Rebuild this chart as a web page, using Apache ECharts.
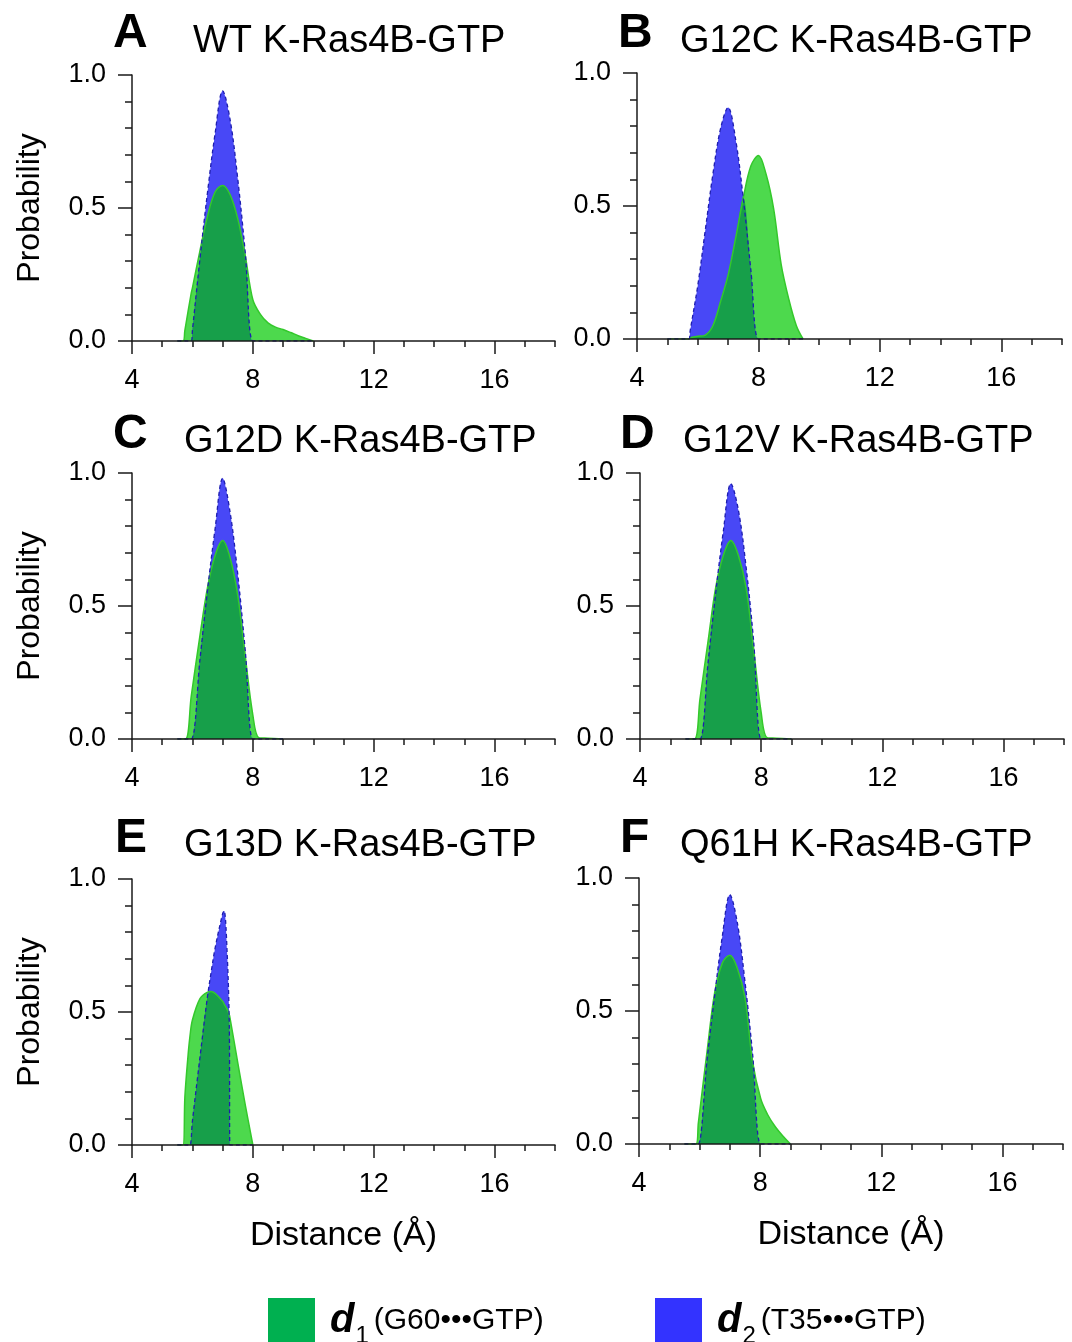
<!DOCTYPE html>
<html>
<head>
<meta charset="utf-8">
<script src="https://cdn.jsdelivr.net/npm/echarts@6/dist/echarts.min.js"></script>
<style>
  html, body { margin: 0; padding: 0; background: #ffffff; }
  #chart { width: 1072px; height: 1342px; }
</style>
</head>
<body>
<div id="chart"></div>
<script>
// Distance distributions d1 (G60···GTP) and d2 (T35···GTP) for six K-Ras4B-GTP systems.
const panelLetters = ['A', 'B', 'C', 'D', 'E', 'F'];
const panelTitles = [
  'WT K-Ras4B-GTP', 'G12C K-Ras4B-GTP',
  'G12D K-Ras4B-GTP', 'G12V K-Ras4B-GTP',
  'G13D K-Ras4B-GTP', 'Q61H K-Ras4B-GTP'
];
const xTickLabels = [4, 8, 12, 16];
const yAxisTitle = 'Probability';
const xAxisTitle = 'Distance (Å)';
const legendLabels = ['(G60•••GTP)', '(T35•••GTP)'];

// A: WT
const distA = [5.5, 5.69, 5.75, 5.96, 6.0, 6.25, 6.5, 6.75, 7.0, 7.25, 7.5, 7.75, 8.0, 8.25, 8.5, 8.75, 9.0, 9.25, 9.5, 9.75, 10.0];
const d1A   = [0, 0, 0.04, 0.18, 0.20, 0.34, 0.47, 0.56, 0.585, 0.55, 0.46, 0.32, 0.155, 0.10, 0.068, 0.052, 0.043, 0.032, 0.02, 0.01, 0];
const d2A   = [0, 0, 0, 0, 0.04, 0.31, 0.56, 0.78, 0.94, 0.83, 0.61, 0.33, 0, 0, 0, 0, 0, 0, 0, 0, 0];

// B: G12C
const distB = [5.0, 5.5, 5.71, 5.75, 6.0, 6.25, 6.5, 6.75, 7.0, 7.25, 7.5, 7.75, 8.0, 8.25, 8.5, 8.75, 9.0, 9.25, 9.47];
const d1B   = [0, 0, 0, 0.005, 0.01, 0.015, 0.05, 0.14, 0.24, 0.38, 0.53, 0.65, 0.69, 0.62, 0.49, 0.28, 0.15, 0.05, 0];
const d2B   = [0, 0, 0, 0.03, 0.20, 0.41, 0.62, 0.79, 0.87, 0.75, 0.53, 0.26, 0, 0, 0, 0, 0, 0, 0];

// C: G12D
const distC = [5.5, 5.77, 5.96, 6.25, 6.5, 6.75, 7.0, 7.25, 7.5, 7.75, 8.0, 8.2, 8.5, 9.0];
const d1C   = [0, 0, 0.16, 0.39, 0.57, 0.69, 0.746, 0.68, 0.54, 0.31, 0.09, 0.005, 0.003, 0];
const d2C   = [0, 0, 0, 0.30, 0.56, 0.79, 0.98, 0.85, 0.62, 0.33, 0, 0, 0, 0];

// D: G12V
const distD = [5.5, 5.8, 5.98, 6.25, 6.5, 6.75, 7.0, 7.25, 7.5, 7.75, 8.0, 8.2, 8.5, 9.0];
const d1D   = [0, 0, 0.15, 0.37, 0.57, 0.69, 0.746, 0.69, 0.57, 0.34, 0.10, 0.005, 0.003, 0];
const d2D   = [0, 0, 0, 0.29, 0.55, 0.78, 0.96, 0.86, 0.65, 0.37, 0, 0, 0, 0];

// E: G13D
const distE = [5.5, 5.69, 5.75, 5.85, 5.92, 6.0, 6.25, 6.5, 6.62, 6.75, 7.0, 7.05, 7.15, 7.22, 7.24, 7.5, 7.75, 8.0];
const d1E   = [0, 0, 0.18, 0.33, 0.41, 0.47, 0.55, 0.575, 0.577, 0.57, 0.54, 0.53, 0.51, 0.49, 0.48, 0.31, 0.15, 0];
const d2E   = [0, 0, 0, 0, 0, 0.09, 0.33, 0.56, 0.65, 0.74, 0.87, 0.88, 0.72, 0.45, 0, 0, 0, 0];

// F: Q61H
const distF = [5.5, 5.88, 5.96, 6.25, 6.5, 6.75, 7.0, 7.25, 7.5, 7.75, 8.02, 8.25, 8.5, 8.75, 9.0];
const d1F   = [0, 0, 0.08, 0.35, 0.57, 0.68, 0.71, 0.66, 0.55, 0.31, 0.17, 0.11, 0.065, 0.03, 0];
const d2F   = [0, 0, 0, 0.32, 0.56, 0.78, 0.937, 0.83, 0.61, 0.34, 0, 0, 0, 0, 0];

const panels = [
  { dist: distA, d1: d1A, d2: d2A },
  { dist: distB, d1: d1B, d2: d2B },
  { dist: distC, d1: d1C, d2: d2C },
  { dist: distD, d1: d1D, d2: d2D },
  { dist: distE, d1: d1E, d2: d2E },
  { dist: distF, d1: d1F, d2: d2F }
];

// Layout of the six plot areas (pixels)
const boxes = [
  { left: 132, top: 75,  width: 423, height: 266 },
  { left: 637, top: 73,  width: 425, height: 266 },
  { left: 132, top: 473, width: 423, height: 266 },
  { left: 640, top: 473, width: 424, height: 266 },
  { left: 132, top: 879, width: 423, height: 266 },
  { left: 639, top: 878, width: 424, height: 266 }
];
const letterPos = [
  { left: 113, top: 10 }, { left: 618, top: 10 },
  { left: 113, top: 411 }, { left: 620, top: 411 },
  { left: 115, top: 815 }, { left: 620, top: 815 }
];
const titlePos = [
  { left: 193, top: 23 }, { left: 680, top: 23 },
  { left: 184, top: 423 }, { left: 683, top: 423 },
  { left: 184, top: 827 }, { left: 680, top: 827 }
];

const FONT = '"Liberation Sans", Arial, Helvetica, sans-serif';
const AXIS = '#1a1a1a';
const GREEN_FILL = '#4dd94d';
const GREEN_LINE = '#34c82c';
const BLUE_FILL = '#4848f6';
const BLUE_LINE = '#1e1eb0';
const OVERLAP_FILL = '#179f4a';
const SMOOTH = 0.35;

const chart = echarts.init(document.getElementById('chart'), null, { renderer: 'canvas' });

const option = {
  animation: false,
  backgroundColor: '#ffffff',
  title: [],
  legend: [],
  grid: boxes.map(b => ({ left: b.left, top: b.top, width: b.width, height: b.height, containLabel: false })),
  xAxis: [],
  yAxis: [],
  series: []
};

panelLetters.forEach((letter, i) => {
  option.title.push({
    text: letter, left: letterPos[i].left, top: letterPos[i].top, padding: 0,
    textStyle: { fontFamily: FONT, fontSize: 48, fontWeight: 'bold', color: '#000' }
  });
  option.title.push({
    text: panelTitles[i], left: titlePos[i].left, top: titlePos[i].top, padding: 0,
    textStyle: { fontFamily: FONT, fontSize: 38, fontWeight: 'normal', color: '#000' }
  });
});

panels.forEach((p, i) => {
  const xy = arr => p.dist.map((x, k) => [x, arr[k]]);
  const both = p.dist.map((x, k) => [x, Math.min(p.d1[k], p.d2[k])]);

  // main distance axis: unit ticks, labels every 4 Å
  option.xAxis.push({
    type: 'value', gridIndex: i, min: 4, max: 18, interval: 1, position: 'bottom', z: 5,
    axisLine: { show: true, onZero: false, lineStyle: { color: AXIS, width: 1.5 } },
    axisTick: { show: true, length: 6, lineStyle: { color: AXIS, width: 1.5 } },
    axisLabel: { customValues: xTickLabels, fontSize: 27, margin: 26, color: '#000', fontFamily: FONT },
    splitLine: { show: false },
    name: i >= 4 ? xAxisTitle : '', nameLocation: 'middle', nameGap: 74,
    nameTextStyle: { fontSize: 34, color: '#000', fontFamily: FONT }
  });
  // longer ticks at the labelled positions
  option.xAxis.push({
    type: 'value', gridIndex: i, min: 4, max: 18, position: 'bottom', z: 5,
    axisLine: { show: false },
    axisLabel: { show: false },
    splitLine: { show: false },
    axisTick: { show: true, customValues: xTickLabels, length: 13, lineStyle: { color: AXIS, width: 1.5 } }
  });

  option.yAxis.push({
    type: 'value', gridIndex: i, min: 0, max: 1, interval: 0.5, position: 'left', z: 5,
    axisLine: { show: true, lineStyle: { color: AXIS, width: 1.5 } },
    axisTick: { show: true, length: 14, lineStyle: { color: AXIS, width: 1.5 } },
    minorTick: { show: true, splitNumber: 5, length: 7, lineStyle: { color: AXIS, width: 1.5 } },
    axisLabel: { fontSize: 27, margin: 26, color: '#000', fontFamily: FONT, formatter: v => v.toFixed(1) },
    splitLine: { show: false },
    name: i % 2 === 0 ? yAxisTitle : '', nameLocation: 'middle', nameGap: 86,
    nameTextStyle: { fontSize: 32, color: '#000', fontFamily: FONT }
  });

  const common = {
    type: 'line', xAxisIndex: 2 * i, yAxisIndex: i, smooth: SMOOTH,
    showSymbol: false, symbol: 'none', silent: true, emphasis: { disabled: true }
  };
  option.series.push(Object.assign({}, common, {
    name: 'd1', data: xy(p.d1),
    itemStyle: { color: GREEN_FILL },
    lineStyle: { color: GREEN_LINE, width: 1.5 },
    areaStyle: { color: GREEN_FILL, opacity: 1 }
  }));
  option.series.push(Object.assign({}, common, {
    name: 'd2', data: xy(p.d2),
    itemStyle: { color: BLUE_FILL },
    lineStyle: { width: 0 },
    areaStyle: { color: BLUE_FILL, opacity: 1 }
  }));
  option.series.push(Object.assign({}, common, {
    name: 'd1 ∩ d2', data: both,
    itemStyle: { color: OVERLAP_FILL },
    lineStyle: { width: 0 },
    areaStyle: { color: OVERLAP_FILL, opacity: 1 }
  }));
  option.series.push(Object.assign({}, common, {
    name: 'd2', data: xy(p.d2),
    itemStyle: { color: BLUE_LINE },
    lineStyle: { color: BLUE_LINE, width: 1.3, type: [4, 3] }
  }));
});

const legendRich = {
  b: { fontFamily: FONT, fontSize: 40, fontWeight: 'bold', fontStyle: 'italic', color: '#000', lineHeight: 56, padding: [0, 0, 0, 10] },
  s: { fontFamily: FONT, fontSize: 24, color: '#000', lineHeight: 24, verticalAlign: 'bottom', padding: [0, 0, 0, 1] },
  t: { fontFamily: FONT, fontSize: 30, color: '#000', lineHeight: 56, padding: [0, 0, 0, 5] }
};
const legendFormatter = name =>
  name === 'd1' ? '{b|d}{s|1}{t|' + legendLabels[0] + '}' : '{b|d}{s|2}{t|' + legendLabels[1] + '}';

option.legend.push({
  data: [{ name: 'd1', icon: 'rect', itemStyle: { color: '#00b050', borderWidth: 0 } }],
  left: 268, top: 1298, padding: 0, itemWidth: 47, itemHeight: 45, selectedMode: false,
  formatter: legendFormatter, textStyle: { rich: legendRich }
});
option.legend.push({
  data: [{ name: 'd2', icon: 'rect', itemStyle: { color: '#3333ff', borderWidth: 0 } }],
  left: 655, top: 1298, padding: 0, itemWidth: 47, itemHeight: 45, selectedMode: false,
  formatter: legendFormatter, textStyle: { rich: legendRich }
});

chart.setOption(option);
</script>
</body>
</html>
